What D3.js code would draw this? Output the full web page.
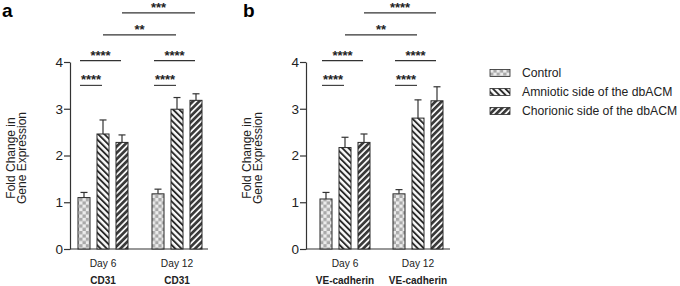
<!DOCTYPE html>
<html>
<head>
<meta charset="utf-8">
<script src="https://cdn.jsdelivr.net/npm/d3@7"></script>
<style>
    body { margin: 0; background: #fff; }
    text { font-family: "Liberation Sans", Arial, sans-serif; fill: #222; }
    .axis-title { font-size: 12px; }
    .day-label { font-size: 10.2px; }
    .gene-label { font-size: 10px; font-weight: bold; }
    .star { font-size: 13px; font-weight: bold; }
    .panel-letter { font-size: 19px; font-weight: bold; fill: #000; }
    .legend-label { font-size: 12.2px; }
</style>
</head>
<body>
<div id="chart"></div>
<script>
// categories
const groups = ['Day 6', 'Day 12'];
const series = ['Control', 'Amniotic side of the dbACM', 'Chorionic side of the dbACM'];
const yTicks = [0, 1, 2, 3, 4];

// panel a: CD31 (mean, error) per group, per series
const cd31Means = [[1.10, 2.46, 2.28], [1.18, 2.99, 3.18]];
const cd31Errors = [[0.11, 0.30, 0.16], [0.10, 0.25, 0.14]];
const cd31Stars = ['****', '****', '****', '****', '**', '***'];

// panel b: VE-cadherin
const veMeans = [[1.07, 2.17, 2.28], [1.18, 2.80, 3.17]];
const veErrors = [[0.14, 0.22, 0.18], [0.09, 0.39, 0.30]];
const veStars = ['****', '****', '****', '****', '**', '****'];

// comparison brackets: [group1, series1, group2, series2, level]
const brackets = [
    [0, 0, 0, 1, 3.5],
    [0, 0, 0, 2, 4.03],
    [1, 0, 1, 1, 3.5],
    [1, 0, 1, 2, 4.03],
    [0, 1, 1, 1, 4.58],
    [0, 2, 1, 2, 5.05],
];

const config = {
    width: 680,
    height: 286,
    top: 62,
    bottom: 249,
};

const svg = d3.select('#chart')
    .append('svg')
    .attr('width', config.width)
    .attr('height', config.height)
;

// fill patterns
const defs = svg.append('defs');

let checks = defs.append('pattern')
    .attr('id', 'pat-control')
    .attr('patternUnits', 'userSpaceOnUse')
    .attr('width', 6.6)
    .attr('height', 6.6)
;
checks.append('rect').attr('width', 6.6).attr('height', 6.6).attr('fill', '#ececec');
checks.append('rect').attr('width', 3.3).attr('height', 3.3).attr('fill', '#a9a9a9');
checks.append('rect').attr('x', 3.3).attr('y', 3.3).attr('width', 3.3).attr('height', 3.3).attr('fill', '#a9a9a9');

function stripes(id, angle, ink, inkWidth, period) {
    let p = defs.append('pattern')
        .attr('id', id)
        .attr('patternUnits', 'userSpaceOnUse')
        .attr('width', period)
        .attr('height', period)
        .attr('patternTransform', `rotate(${angle})`)
    ;
    p.append('rect').attr('width', period).attr('height', period).attr('fill', '#fafafa');
    p.append('rect').attr('width', inkWidth).attr('height', period).attr('fill', ink);
}
stripes('pat-amniotic', -45, '#2a2a2a', 1.9, 4.4);
stripes('pat-chorionic', 45, '#3a3a3a', 2.7, 4.4);

const fills = ['url(#pat-control)', 'url(#pat-amniotic)', 'url(#pat-chorionic)'];

const yScale = d3.scaleLinear()
    .domain([0, 4])
    .range([config.bottom, config.top])
;

function drawPanel(opts) {
    let g = svg.append('g');

    let groupScale = d3.scalePoint()
        .domain(groups)
        .range(opts.centers)
    ;
    let subScale = d3.scaleBand()
        .domain(series)
        .range([-28.5, 28.5])
        .paddingInner(0.368)
        .paddingOuter(0.184)
    ;
    let cx = (gi, si) => groupScale(groups[gi]) + subScale(series[si]) + subScale.bandwidth() / 2;

    // y axis
    let yAxis = d3.axisLeft(yScale)
        .tickValues(yTicks)
        .tickFormat(d3.format('d'))
        .tickSize(6)
        .tickSizeOuter(0)
    ;
    let ya = g.append('g')
        .attr('transform', `translate(${opts.axisX},0)`)
        .call(yAxis)
    ;
    ya.selectAll('path, line').attr('stroke', '#333').attr('stroke-width', 1.2);
    ya.selectAll('text')
        .attr('x', -7)
        .attr('fill', '#222')
        .style('font-family', '"Liberation Sans", Arial, sans-serif')
        .style('font-size', '13.5px')
    ;

    // x baseline
    g.append('line')
        .attr('x1', opts.axisX)
        .attr('x2', opts.axisEnd)
        .attr('y1', yScale(0))
        .attr('y2', yScale(0))
        .attr('stroke', '#333')
        .attr('stroke-width', 1.2)
    ;

    let rows = [];
    opts.means.forEach((row, gi) => row.forEach((v, si) => {
        rows.push({ gi: gi, si: si, v: v, e: opts.errors[gi][si] });
    }));

    // error bars (upper only)
    g.selectAll('.err')
        .data(rows)
        .enter()
        .append('line')
        .attr('x1', d => cx(d.gi, d.si))
        .attr('x2', d => cx(d.gi, d.si))
        .attr('y1', d => yScale(d.v))
        .attr('y2', d => yScale(d.v + d.e))
        .attr('stroke', '#333')
        .attr('stroke-width', 1.2)
    ;
    g.selectAll('.cap')
        .data(rows)
        .enter()
        .append('line')
        .attr('x1', d => cx(d.gi, d.si) - 3.5)
        .attr('x2', d => cx(d.gi, d.si) + 3.5)
        .attr('y1', d => yScale(d.v + d.e))
        .attr('y2', d => yScale(d.v + d.e))
        .attr('stroke', '#333')
        .attr('stroke-width', 1.2)
    ;

    // bars
    g.selectAll('.bar')
        .data(rows)
        .enter()
        .append('rect')
        .attr('x', d => cx(d.gi, d.si) - subScale.bandwidth() / 2)
        .attr('y', d => yScale(d.v))
        .attr('width', subScale.bandwidth())
        .attr('height', d => yScale(0) - yScale(d.v))
        .attr('fill', d => fills[d.si])
        .attr('stroke', '#2a2a2a')
        .attr('stroke-width', 1)
    ;

    // significance lines
    brackets.forEach((b, i) => {
        let x1 = cx(b[0], b[1]) - (b[1] === 0 ? 4 : 0);
        let x2 = cx(b[2], b[3]) - 1;
        let y = yScale(b[4]);
        g.append('line')
            .attr('x1', x1)
            .attr('x2', x2)
            .attr('y1', y)
            .attr('y2', y)
            .attr('stroke', '#333')
            .attr('stroke-width', 1.1)
        ;
        g.append('text')
            .attr('class', 'star')
            .attr('x', (x1 + x2) / 2)
            .attr('y', y - 1)
            .attr('text-anchor', 'middle')
            .text(opts.stars[i])
        ;
    });

    // group labels
    groups.forEach(name => {
        g.append('text')
            .attr('class', 'day-label')
            .attr('x', groupScale(name))
            .attr('y', 267)
            .attr('text-anchor', 'middle')
            .text(name)
        ;
        g.append('text')
            .attr('class', 'gene-label')
            .attr('x', groupScale(name))
            .attr('y', 284)
            .attr('text-anchor', 'middle')
            .text(opts.gene)
        ;
    });

    // y axis title
    let ty = 158;
    g.append('text')
        .attr('class', 'axis-title')
        .attr('transform', `translate(${opts.axisX - 55},${ty}) rotate(-90)`)
        .attr('text-anchor', 'middle')
        .text('Fold Change in')
    ;
    g.append('text')
        .attr('class', 'axis-title')
        .attr('transform', `translate(${opts.axisX - 44},${ty}) rotate(-90)`)
        .attr('text-anchor', 'middle')
        .text('Gene Expression')
    ;

    // panel letter
    svg.append('text')
        .attr('class', 'panel-letter')
        .attr('x', opts.letterX)
        .attr('y', 17)
        .text(opts.letter)
    ;
}

drawPanel({
    letter: 'a', letterX: 2, axisX: 70, axisEnd: 208, centers: [103, 177],
    means: cd31Means, errors: cd31Errors, stars: cd31Stars, gene: 'CD31',
});
drawPanel({
    letter: 'b', letterX: 243, axisX: 306, axisEnd: 450, centers: [345, 418],
    means: veMeans, errors: veErrors, stars: veStars, gene: 'VE-cadherin',
});

// legend
let legend = svg.append('g')
    .attr('transform', 'translate(490,0)')
;
series.forEach((name, i) => {
    let y = 73 + i * 19;
    legend.append('rect')
        .attr('x', 0)
        .attr('y', y - 3.5)
        .attr('width', 20)
        .attr('height', 7)
        .attr('fill', fills[i])
        .attr('stroke', '#2a2a2a')
        .attr('stroke-width', 0.8)
    ;
    legend.append('text')
        .attr('class', 'legend-label')
        .attr('x', 32)
        .attr('y', y + 4.3)
        .text(name)
    ;
});
</script>
</body>
</html>
